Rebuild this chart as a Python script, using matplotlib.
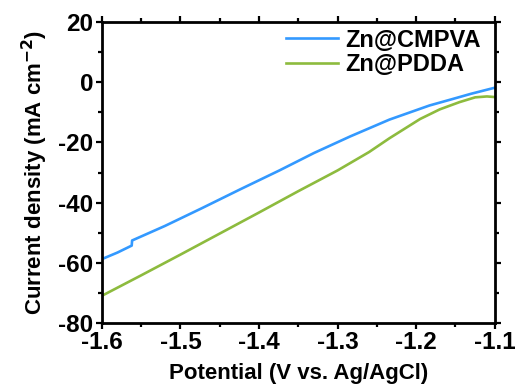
import numpy as np
import matplotlib
matplotlib.use("Agg")
import matplotlib.pyplot as plt
from matplotlib.ticker import MultipleLocator

plt.rcParams['font.family'] = ['Liberation Sans', 'DejaVu Sans']
plt.rcParams['font.weight'] = 'bold'
plt.rcParams['axes.unicode_minus'] = False

# potentials (V vs. Ag/AgCl) and current densities (mA cm^-2)
e_cmpva = [-1.6, -1.58, -1.562, -1.5615, -1.52, -1.473, -1.424, -1.374,
           -1.33, -1.284, -1.234, -1.183, -1.157, -1.13, -1.1]
j_cmpva = [-58.8, -56.6, -54.3, -52.6, -47.8, -41.9, -35.6, -29.3,
           -23.5, -18.0, -12.4, -7.7, -5.8, -3.8, -1.8]

e_pdda = [-1.6, -1.55, -1.5, -1.45, -1.4, -1.35, -1.3, -1.26,
          -1.234, -1.195, -1.17, -1.145, -1.125, -1.11, -1.1]
j_pdda = [-71.0, -64.2, -57.3, -50.3, -43.3, -36.2, -29.3, -23.2,
          -18.6, -12.2, -9.0, -6.6, -5.0, -4.7, -4.9]

fig = plt.figure(figsize=(5.17, 3.89), dpi=100)
ax = fig.add_axes([0.197, 0.170, 0.760, 0.773])

ax.plot(e_cmpva, j_cmpva, color="#3399ff", linewidth=1.9, label="Zn@CMPVA")
ax.plot(e_pdda, j_pdda, color="#8dbb3e", linewidth=1.9, label="Zn@PDDA")

ax.set_xlim(-1.6, -1.1)
ax.set_ylim(-80, 20)
ax.xaxis.set_major_locator(MultipleLocator(0.1))
ax.xaxis.set_minor_locator(MultipleLocator(0.05))
ax.yaxis.set_major_locator(MultipleLocator(20))
ax.yaxis.set_minor_locator(MultipleLocator(10))
ax.xaxis.set_major_formatter(plt.FuncFormatter(lambda v, p: f"{v:.1f}"))

for s in ax.spines.values():
    s.set_linewidth(2.0)
ax.tick_params(which="both", direction="out", width=1.6, top=True, right=True,
               labelsize=17.5, pad=2)
ax.tick_params(which="major", length=4)
ax.tick_params(which="minor", length=3)

ax.set_xlabel("Potential (V vs. Ag/AgCl)", fontsize=16, fontweight="bold", labelpad=6)
ax.set_ylabel("Current density (mA cm$^{\\mathbf{-2}}$)", fontsize=16,
              fontweight="bold", labelpad=6)

ax.legend(loc="upper right", frameon=False, fontsize=17, handlelength=2.2,
          handletextpad=0.3, labelspacing=0.05, borderaxespad=0.0,
          bbox_to_anchor=(0.988, 1.01))

plt.savefig("out.png", dpi=100)
